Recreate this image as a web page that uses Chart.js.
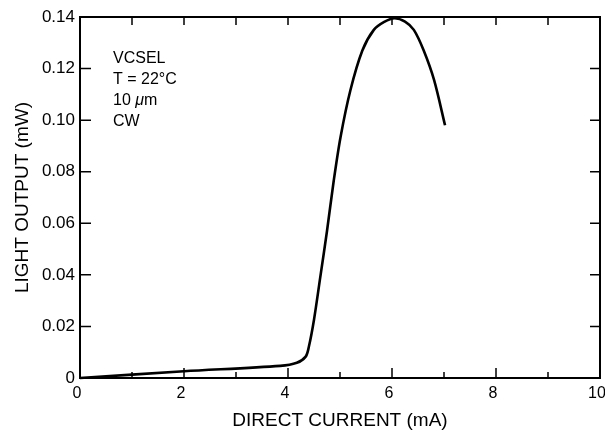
<!DOCTYPE html>
<html>
<head>
<meta charset="utf-8">
<script src="https://cdn.jsdelivr.net/npm/chart.js@4.4.1/dist/chart.umd.min.js"></script>
<style>
  html, body { margin: 0; padding: 0; background: #fff; }
  #wrap { width: 605px; height: 432px; }
</style>
</head>
<body>
<div id="wrap"><canvas id="myChart"></canvas></div>
<script>
// values
let current = [0, 2, 3.85, 4.17, 4.34, 4.40, 4.50, 4.62, 4.75, 4.88, 5.01, 5.20, 5.43, 5.65, 5.85, 6.05, 6.25, 6.42, 6.61, 6.81, 7.02];
let output = [0, 0.0026, 0.0047, 0.0059, 0.0083, 0.012, 0.0226, 0.039, 0.057, 0.0766, 0.0934, 0.1116, 0.127, 0.135, 0.1381, 0.1395, 0.1382, 0.135, 0.127, 0.1155, 0.098];
let xTicks = [0, 2, 4, 6, 8, 10];
let yTicks = [0, 0.02, 0.04, 0.06, 0.08, 0.10, 0.12, 0.14];
let notes = ["VCSEL", "T = 22°C", "10 μm", "CW"];

let FONT = "'Liberation Sans', Arial, Helvetica, sans-serif";
Chart.defaults.color = "#000";
Chart.defaults.font.family = FONT;

let points = [];
for (let i = 0; i < current.length; i++) {
  points.push({ x: current[i], y: output[i] });
}

// frame, inward ticks and the text block
const frame = {
  id: "frame",
  afterDraw(chart) {
    let ctx = chart.ctx;
    let a = chart.chartArea;
    let xs = chart.scales.x;
    let ys = chart.scales.y;
    ctx.save();
    ctx.strokeStyle = "#000";
    ctx.lineWidth = 2;
    ctx.strokeRect(a.left, a.top, a.right - a.left, a.bottom - a.top);
    ctx.lineWidth = 1.5;
    ctx.beginPath();
    for (let v = 1; v < 10; v++) {
      let px = xs.getPixelForValue(v);
      let len = v % 2 == 0 ? 10 : 6;
      ctx.moveTo(px, a.bottom);
      ctx.lineTo(px, a.bottom - len);
      ctx.moveTo(px, a.top);
      ctx.lineTo(px, a.top + 8);
    }
    for (let i = 1; i < yTicks.length - 1; i++) {
      let py = ys.getPixelForValue(yTicks[i]);
      ctx.moveTo(a.left, py);
      ctx.lineTo(a.left + 11, py);
      ctx.moveTo(a.right, py);
      ctx.lineTo(a.right - 10, py);
    }
    ctx.stroke();

    ctx.fillStyle = "#000";
    ctx.textBaseline = "middle";
    ctx.textAlign = "left";
    let x0 = 113;
    let size = "16px ";
    for (let i = 0; i < notes.length; i++) {
      let y = 59 + i * 20.7;
      if (notes[i].indexOf("μ") >= 0) {
        let parts = notes[i].split("μ");
        ctx.font = size + FONT;
        ctx.fillText(parts[0], x0, y);
        let w = ctx.measureText(parts[0]).width;
        ctx.font = "italic " + size + FONT;
        ctx.fillText("μ", x0 + w, y);
        let w2 = ctx.measureText("μ").width;
        ctx.font = size + FONT;
        ctx.fillText(parts[1], x0 + w + w2, y);
      } else {
        ctx.font = size + FONT;
        ctx.fillText(notes[i], x0, y);
      }
    }
    ctx.restore();
  },
};

new Chart("myChart", {
  type: "scatter",
  data: {
    datasets: [
      {
        data: points,
        showLine: true,
        borderColor: "#000",
        borderWidth: 2.6,
        pointRadius: 0,
        tension: 0.3,
        clip: false,
      },
    ],
  },
  options: {
    responsive: true,
    maintainAspectRatio: false,
    animation: false,
    layout: { padding: { top: 17, right: 5, left: 0, bottom: 0 } },
    plugins: {
      legend: { display: false },
      tooltip: { enabled: false },
    },
    scales: {
      x: {
        type: "linear",
        min: 0,
        max: 10,
        afterBuildTicks: (s) => { s.ticks = xTicks.map((v) => ({ value: v })); },
        afterFit: (s) => { s.height = 54; s.paddingRight = 0; s.paddingLeft = 0; },
        grid: { display: false, drawTicks: false },
        border: { display: false },
        ticks: { font: { size: 16 }, padding: 6, labelOffset: -3, maxRotation: 0 },
        title: {
          display: true,
          text: "DIRECT CURRENT (mA)",
          font: { size: 19 },
          padding: { top: 0, bottom: 0 },
        },
      },
      y: {
        type: "linear",
        min: 0,
        max: 0.14,
        afterBuildTicks: (s) => { s.ticks = yTicks.map((v) => ({ value: v })); },
        afterFit: (s) => { s.width = 80; s.paddingTop = 0; s.paddingBottom = 0; },
        grid: { display: false, drawTicks: false },
        border: { display: false },
        ticks: {
          font: { size: 17 },
          padding: 5,
          callback: (v) => (v == 0 ? "0" : v.toFixed(2)),
        },
        title: {
          display: true,
          text: "LIGHT OUTPUT (mW)",
          font: { size: 19 },
          padding: { top: 11, bottom: 0 },
        },
      },
    },
  },
  plugins: [frame],
});
</script>
</body>
</html>
